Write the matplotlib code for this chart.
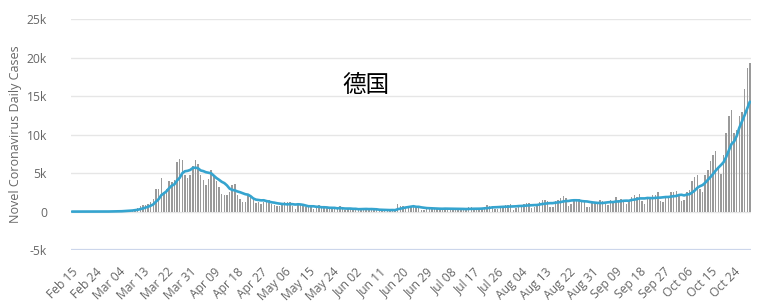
import numpy as np
import pandas as pd
import matplotlib
matplotlib.use("Agg")
import matplotlib.pyplot as plt

# ---------------------------------------------------------------------------
# Data (daily new cases)
# ---------------------------------------------------------------------------

title = "德国"
start_date = "2020-02-15"

feb_cases = [0, 0, 0, 0, 0, 0, 0, 0, 0, 0, 2, 10, 20, 25, 13]
mar_cases = [50, 33, 40, 55, 110, 185, 150, 160, 265, 350,
             420, 700, 800, 900, 1000, 1200, 1600, 2900, 2900, 4400,
             2600, 2900, 4000, 3900, 4100, 6400, 6800, 6750, 4700, 4400,
             4700]
apr_cases = [5900, 6700, 6200, 4800, 4100, 3400, 4200, 5400, 4600, 4000,
             3200, 2300, 2200, 2100, 2500, 3400, 3600, 2200, 1600, 1300,
             1200, 2100, 2000, 1600, 1100, 1200, 1000, 1300, 1400, 1500]
may_cases = [945, 793, 679, 685, 947, 1284, 1209, 1251, 667, 357,
             933, 798, 913, 620, 583, 620, 342, 513, 797, 460,
             638, 431, 289, 342, 432, 353, 741, 431, 182, 286,
             333]
jun_cases = [213, 342, 394, 507, 301, 301, 214, 250, 200, 300,
             150, 250, 180, 100, 200, 250, 220, 1000, 700, 750,
             600, 600, 587, 630, 477, 687, 256, 262, 298, 466]
jul_cases = [503, 446, 422, 239, 219, 397, 442, 442, 395, 378,
             248, 159, 360, 351, 534, 583, 347, 249, 202, 454,
             569, 815, 781, 781, 305, 340, 633, 684, 902, 870,
             955]
aug_cases = [240, 509, 879, 741, 1045, 1147, 1122, 436, 555, 966,
             1226, 1445, 1449, 1415, 625, 561, 1390, 1510, 1707, 2034,
             1737, 711, 1018, 1576, 1507, 1571, 1479, 1479, 610, 555,
             1218]
sep_cases = [1256, 1311, 1453, 1378, 988, 814, 1499, 1176, 1892, 1484,
             1630, 1345, 927, 1407, 1901, 2194, 1916, 2297, 1345, 922,
             1821, 1769, 2143, 2153, 2507, 1411, 1192, 2089, 1798, 2503]
oct_cases = [2500, 2700, 2300, 1400, 1500, 2600, 2800, 4000, 4500, 4800,
             2900, 2500, 4700, 5400, 6600, 7300, 7900, 5500, 4900, 7300,
             10200, 12400, 13200, 10200, 10600, 12400, 12900, 15900, 18600, 19300]

daily_cases = (feb_cases + mar_cases + apr_cases + may_cases + jun_cases
               + jul_cases + aug_cases + sep_cases + oct_cases)
dates = pd.date_range(start_date, periods=len(daily_cases), freq="D")

y_ticks = [-5000, 0, 5000, 10000, 15000, 20000, 25000]
y_tick_labels = ["-5k", "0", "5k", "10k", "15k", "20k", "25k"]
LABEL_EVERY = 9

BAR_COLOR = "#9a9a9a"
LINE_COLOR = "#35a4cf"
GRID_COLOR = "#e6e6e6"
AXIS_COLOR = "#ccd6eb"
TEXT_COLOR = "#666666"

plt.rcParams["font.family"] = ["Open Sans", "DejaVu Sans"]


def main():
    series = pd.Series(daily_cases, index=dates, dtype=float)
    avg7 = series.rolling(7, min_periods=1).mean()
    x = np.arange(len(series))

    fig = plt.figure(figsize=(7.76, 3.08), dpi=100)
    ax = fig.add_axes([0.091, 0.188, 0.877, 0.750])

    ax.bar(x, series.values, width=0.55, color=BAR_COLOR, zorder=2, linewidth=0)
    ax.plot(x, avg7.values, color=LINE_COLOR, lw=1.9, zorder=3,
            solid_joinstyle="round", solid_capstyle="round")

    ax.set_xlim(-0.5, len(series) - 0.5)
    ax.set_ylim(-5000, 25000)
    ax.set_yticks(y_ticks)
    ax.set_yticklabels(y_tick_labels)
    for t in y_ticks[1:]:
        ax.axhline(t, color=GRID_COLOR, lw=1, zorder=0)
    ax.axhline(-5000, color=AXIS_COLOR, lw=1.6, zorder=1)

    tick_pos = x[::LABEL_EVERY]
    ax.set_xticks(tick_pos)
    ax.set_xticklabels([d.strftime("%b %d") for d in dates[::LABEL_EVERY]],
                       rotation=45, ha="right", rotation_mode="anchor")

    ax.tick_params(axis="y", length=0, pad=17, labelsize=8.7, labelcolor=TEXT_COLOR)
    ax.tick_params(axis="x", length=0, pad=11, labelsize=8.7, labelcolor=TEXT_COLOR)
    for spine in ax.spines.values():
        spine.set_visible(False)

    ax.set_ylabel("Novel Coronavirus Daily Cases", color=TEXT_COLOR, fontsize=9)
    ax.yaxis.set_label_coords(-0.072, 0.5)

    ax.text(0.434, 0.714, title, transform=ax.transAxes, ha="center", va="center",
            fontsize=17, color="black",
            family=["Noto Sans CJK SC", "DejaVu Sans"])

    fig.savefig("out.png", dpi=100)


if __name__ == "__main__":
    main()
